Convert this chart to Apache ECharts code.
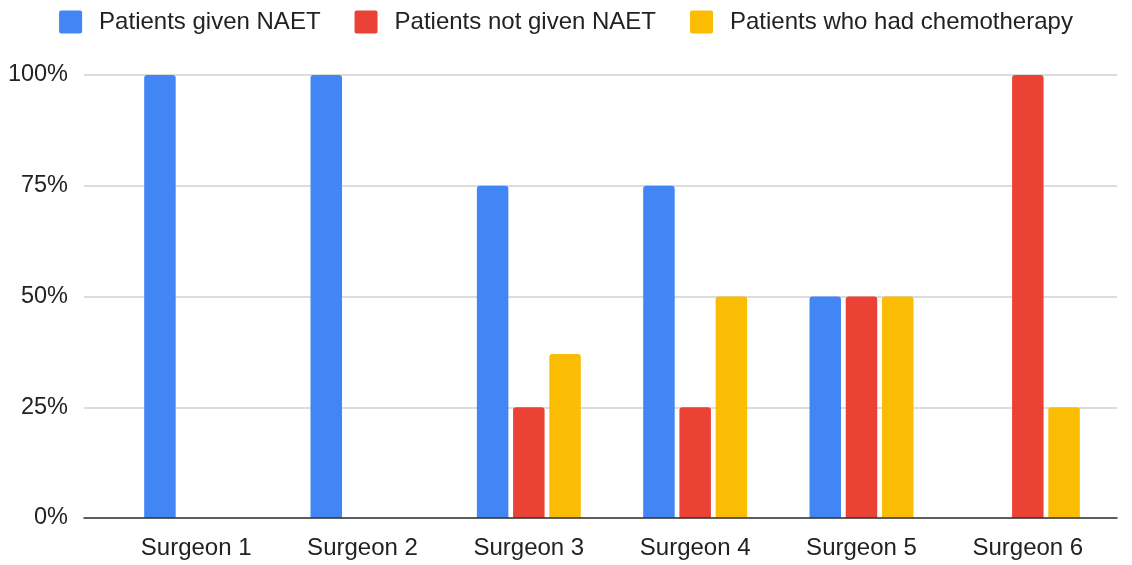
<!DOCTYPE html>
<html>
<head>
<meta charset="utf-8">
<script src="https://cdn.jsdelivr.net/npm/echarts@6/dist/echarts.min.js"></script>
<style>
    html, body { margin: 0; padding: 0; background: #fff; }
    #chart { width: 1132px; height: 565px; }
</style>
</head>
<body>
<div id="chart"></div>
<script>
    var surgeons = ['Surgeon 1', 'Surgeon 2', 'Surgeon 3', 'Surgeon 4', 'Surgeon 5', 'Surgeon 6'];
    var seriesNames = ['Patients given NAET', 'Patients not given NAET', 'Patients who had chemotherapy'];
    var givenNaet = [100, 100, 75, 75, 50, 0];
    var notGivenNaet = [0, 0, 25, 25, 50, 100];
    var chemotherapy = [0, 0, 37, 50, 50, 25];
    var yTicks = [0, 25, 50, 75, 100];

    var colors = ['#4285F4', '#EA4335', '#FBBC04'];
    var font = 'Liberation Sans, Arial, sans-serif';
    // small square with slightly rounded corners, like the legend chips
    var chip = 'path://M2,0 H21 Q23,0 23,2 V21 Q23,23 21,23 H2 Q0,23 0,21 V2 Q0,0 2,0 Z';

    var chart = echarts.init(document.getElementById('chart'));

    // grid 0 carries gridlines, y labels and the baseline; grid 1 holds the bars
    function barSeries(name, data, color) {
        return {
            name: name,
            type: 'bar',
            xAxisIndex: 1,
            yAxisIndex: 1,
            data: data,
            barGap: '15%',
            barCategoryGap: '37.5%',
            itemStyle: { color: color, borderRadius: [3, 3, 0, 0] }
        };
    }

    chart.setOption({
        animation: false,
        color: colors,
        legend: {
            data: seriesNames,
            top: 5,
            left: 'center',
            itemWidth: 23,
            itemHeight: 23,
            itemGap: 34,
            icon: chip,
            textStyle: {
                fontFamily: font,
                fontSize: 24,
                color: '#222',
                padding: [0, 0, 0, 12]
            }
        },
        grid: [
            { left: 84, right: 15, top: 75, bottom: 47 },
            { left: 113, right: 21, top: 75, bottom: 47 }
        ],
        xAxis: [
            {
                type: 'category',
                gridIndex: 0,
                data: [''],
                axisLine: { show: true, lineStyle: { color: '#333', width: 1.5 } },
                axisTick: { show: false },
                axisLabel: { show: false },
                z: 5
            },
            {
                type: 'category',
                gridIndex: 1,
                data: surgeons,
                axisLine: { show: false },
                axisTick: { show: false },
                axisLabel: {
                    margin: 18,
                    fontFamily: font,
                    fontSize: 24,
                    color: '#222'
                }
            }
        ],
        yAxis: [
            {
                type: 'value',
                gridIndex: 0,
                min: yTicks[0],
                max: yTicks[yTicks.length - 1],
                interval: 25,
                axisLine: { show: false },
                axisTick: { show: false },
                axisLabel: {
                    margin: 16,
                    fontFamily: font,
                    fontSize: 23.5,
                    color: '#222',
                    formatter: '{value}%'
                },
                splitLine: { lineStyle: { color: '#d0d0d0', width: 1.5 } }
            },
            {
                type: 'value',
                gridIndex: 1,
                min: yTicks[0],
                max: yTicks[yTicks.length - 1],
                interval: 25,
                show: false,
                splitLine: { show: false }
            }
        ],
        series: [
            barSeries(seriesNames[0], givenNaet, colors[0]),
            barSeries(seriesNames[1], notGivenNaet, colors[1]),
            barSeries(seriesNames[2], chemotherapy, colors[2])
        ]
    });
</script>
</body>
</html>
